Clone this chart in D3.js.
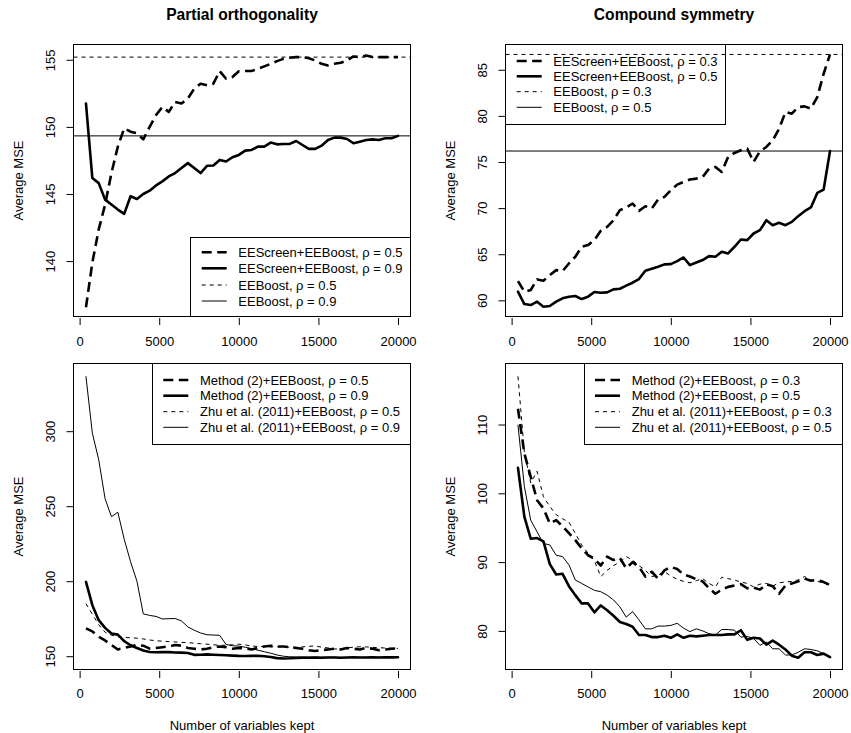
<!DOCTYPE html>
<html><head><meta charset="utf-8">
<script src="https://cdn.jsdelivr.net/npm/d3@7/dist/d3.min.js"></script>
<style>
body{margin:0;background:#fff}
text{font-family:"Liberation Sans",Arial,Helvetica,sans-serif;fill:#000}
</style>
</head><body><svg id="c" width="851" height="733"></svg>
<script>
// ---------- data ----------
const nKept = [400,800,1200,1600,2000,2400,2800,3200,3600,4000,4400,4800,5200,5600,6000,6400,6800,7200,7600,8000,
  8400,8800,9200,9600,10000,10400,10800,11200,11600,12000,12400,12800,13200,13600,14000,14400,14800,15200,15600,16000,
  16400,16800,17200,17600,18000,18400,18800,19200,19600,20000];
const xTicks = [0,5000,10000,15000,20000];

// Partial orthogonality, EEScreen vs EEBoost
const poEEScreen05 = [136.56,139.89,142.36,144.21,146.56,148.53,149.89,149.64,149.52,149.07,150.01,150.88,151.49,151.12,151.86,151.74,152.11,152.85,153.22,153.10,
  153.22,154.16,153.59,153.72,154.14,154.16,154.16,154.33,154.51,154.70,154.90,155.07,155.15,155.20,155.20,155.12,154.95,154.70,154.58,154.70,
  154.78,154.95,155.25,155.20,155.32,155.20,155.20,155.20,155.20,155.20];
const poEEScreen09 = [151.74,146.19,145.81,144.58,144.21,143.84,143.52,144.83,144.63,145.00,145.25,145.64,145.94,146.31,146.56,146.93,147.30,146.93,146.56,147.10,
  147.12,147.54,147.42,147.74,147.91,148.23,148.28,148.53,148.53,148.83,148.70,148.73,148.73,148.95,148.65,148.36,148.36,148.60,149.02,149.20,
  149.20,149.10,148.78,148.90,149.02,149.07,149.02,149.15,149.15,149.33];
const poEEBoost = [155.2, 149.33];           // rho = 0.5, rho = 0.9
const poYTicks = [140,145,150,155];
const poLegend = ["EEScreen+EEBoost, ρ = 0.5","EEScreen+EEBoost, ρ = 0.9","EEBoost, ρ = 0.5","EEBoost, ρ = 0.9"];

// Compound symmetry, EEScreen vs EEBoost
const csEEScreen03 = [62.09,60.94,61.12,62.27,62.13,62.74,63.28,63.17,64.00,64.73,65.81,65.99,66.53,67.54,67.97,68.69,69.78,70.07,70.50,69.70,
  70.21,69.96,70.93,71.22,71.94,72.55,72.84,73.10,73.20,73.38,74.29,74.47,73.92,75.55,75.98,76.27,76.45,75.01,76.16,76.63,
  77.35,78.61,80.42,80.24,80.96,81.03,80.78,82.04,84.57,86.66];
const csEEScreen05 = [60.94,59.60,59.49,59.86,59.31,59.39,59.86,60.22,60.40,60.47,60.14,60.40,60.90,60.83,60.87,61.19,61.26,61.59,61.91,62.31,
  63.21,63.43,63.64,63.90,63.93,64.26,64.65,63.82,64.11,64.37,64.80,64.73,65.27,65.09,65.81,66.60,66.53,67.25,67.61,68.69,
  68.15,68.41,68.15,68.51,69.13,69.67,70.07,71.65,72.01,76.19];
const csEEBoost = [86.66, 76.19];            // rho = 0.3, rho = 0.5
const csYTicks = [60,65,70,75,80,85];
const csLegend = ["EEScreen+EEBoost, ρ = 0.3","EEScreen+EEBoost, ρ = 0.5","EEBoost, ρ = 0.3","EEBoost, ρ = 0.5"];

// Partial orthogonality, Method (2) vs Zhu et al.
const poMethod05 = [168.5,166.5,163.0,160.5,157.5,154.5,155.5,156.5,157.5,157.0,155.0,155.5,156.0,156.5,157.5,157.0,155.5,155.0,154.5,155.0,
  156.0,156.5,156.0,155.0,155.5,155.2,154.5,155.5,156.5,157.0,156.5,156.5,156.0,155.5,155.0,154.0,153.5,154.0,154.5,155.0,
  154.5,155.5,155.0,154.5,155.5,155.0,154.0,154.5,155.0,155.2];
const poMethod09 = [199.5,184.0,174.0,168.9,165.1,164.4,160.0,157.3,155.5,153.8,152.8,152.6,152.8,152.7,152.5,152.4,152.1,150.9,151.0,151.2,
  151.0,150.8,150.6,150.4,150.2,150.1,150.2,150.3,150.0,149.5,148.7,148.5,148.6,148.8,149.0,149.0,149.1,149.0,149.1,149.1,
  149.0,149.1,149.2,149.1,149.1,149.2,149.1,149.2,149.2,149.3];
const poZhu05 = [185.0,178.0,171.0,166.0,164.0,163.0,162.5,162.3,162.0,161.5,160.8,160.3,160.0,159.7,159.5,159.2,159.0,158.7,158.3,158.0,
  157.6,157.3,157.3,157.6,158.0,157.5,156.8,156.5,156.4,156.2,156.3,156.2,156.0,155.9,156.2,156.6,156.8,156.0,155.5,154.8,
  155.0,155.6,156.0,156.3,156.2,155.9,155.6,155.5,155.3,155.2];
const poZhu09 = [336.4,298.7,281.0,255.0,243.0,246.0,228.0,213.0,200.0,178.2,177.2,176.5,174.8,175.0,175.1,173.5,169.5,167.3,165.5,164.3,
  164.1,163.9,157.8,157.0,156.7,156.0,155.0,154.0,153.0,152.0,150.8,150.0,149.6,149.5,149.5,149.4,149.4,149.3,149.3,149.3,
  149.2,149.2,149.2,149.2,149.3,149.3,149.3,149.3,149.3,149.3];
const poBotYTicks = [150,200,250,300];
const poBotLegend = ["Method (2)+EEBoost, ρ = 0.5","Method (2)+EEBoost, ρ = 0.9","Zhu et al. (2011)+EEBoost, ρ = 0.5","Zhu et al. (2011)+EEBoost, ρ = 0.9"];

// Compound symmetry, Method (2) vs Zhu et al.
const csMethod03 = [112.3,105.8,102.4,99.0,97.8,95.6,96.1,95.2,94.2,93.2,92.0,91.0,90.5,89.5,90.8,90.3,90.6,89.1,90.0,89.3,
  87.9,88.6,87.6,88.8,89.3,89.0,88.2,87.9,87.5,87.2,86.2,85.4,86.0,86.4,86.6,86.8,86.2,86.3,86.0,86.8,
  86.5,85.4,86.6,86.9,87.2,87.6,87.3,87.4,87.1,86.66];
const csMethod05 = [103.7,96.6,93.4,93.5,93.0,89.7,88.2,88.3,86.5,85.2,84.0,84.0,82.7,83.7,83.0,82.2,81.3,81.0,80.6,79.4,
  79.4,79.1,79.1,79.3,79.0,79.5,79.0,79.3,79.2,79.3,79.4,79.4,79.4,79.5,79.5,80.1,78.7,79.0,78.9,78.0,
  78.6,78.0,77.3,76.4,76.1,76.9,76.9,76.5,76.7,76.19];
const csZhu03 = [117.0,106.0,101.5,103.2,99.5,98.1,96.9,96.3,95.8,94.2,92.5,91.3,90.2,87.9,88.8,89.5,90.0,90.8,90.3,89.5,
  88.8,87.9,88.1,88.6,88.0,87.5,87.2,87.0,87.3,87.6,86.9,86.4,87.8,87.6,87.4,87.1,86.9,86.4,86.8,86.9,
  86.5,87.0,87.1,87.2,87.4,87.9,87.4,87.2,87.0,86.66];
const csZhu05 = [109.9,101.0,96.1,94.4,92.7,92.5,91.0,90.8,89.6,87.4,86.9,86.4,85.9,85.7,85.2,84.5,83.5,82.0,82.8,81.6,
  80.3,80.3,80.7,80.7,80.8,81.1,80.4,79.9,80.3,80.0,79.6,79.4,80.2,80.2,80.1,79.1,79.2,78.9,77.9,78.4,
  77.4,77.4,76.5,76.5,76.9,77.4,77.3,77.1,76.7,76.19];
const csBotYTicks = [80,90,100,110];
const csBotLegend = ["Method (2)+EEBoost, ρ = 0.3","Method (2)+EEBoost, ρ = 0.5","Zhu et al. (2011)+EEBoost, ρ = 0.3","Zhu et al. (2011)+EEBoost, ρ = 0.5"];

// ---------- styles ----------
const STY = {
  thickDash: {w:2.6, dash:"10,5.5"},
  thickSolid:{w:2.6, dash:null},
  thinDash:  {w:1,   dash:"4,4"},
  thinSolid: {w:1,   dash:null}
};
const legendStyles = ["thickDash","thickSolid","thinDash","thinSolid"];

// ---------- layout ----------
const panels = [
  {title:"Partial orthogonality", box:[73.5,44.5,410.5,316.5], ydom:[135.87,156.14], yticks:poYTicks,
   series:[[poEEScreen05,"thickDash"],[poEEScreen09,"thickSolid"]],
   hlines:[[poEEBoost[0],"thinDash"],[poEEBoost[1],"thinSolid"]],
   legend:{labels:poLegend, box:[190.5,237.5,410.5,316.5], rows:[252.3,268.3,285,301], sx:201.7, tx:238.3},
   xlabBase:346.4, xtitle:false},
  {title:"Compound symmetry", box:[505.5,44.5,842.5,316.5], ydom:[58.25,87.74], yticks:csYTicks,
   series:[[csEEScreen03,"thickDash"],[csEEScreen05,"thickSolid"]],
   hlines:[[csEEBoost[0],"thinDash"],[csEEBoost[1],"thinSolid"]],
   legend:{labels:csLegend, box:[505.5,44.5,725.5,124.5], rows:[61,76.3,91.7,107.3], sx:516.7, tx:553.3},
   xlabBase:346.4, xtitle:false},
  {title:null, box:[73.5,363.5,410.5,669.5], ydom:[141.13,345.13], yticks:poBotYTicks,
   series:[[poZhu09,"thinSolid"],[poZhu05,"thinDash"],[poMethod05,"thickDash"],[poMethod09,"thickSolid"]],
   hlines:[],
   legend:{labels:poBotLegend, box:[152.5,363.5,410.5,444.5], rows:[380,395.7,411.7,427.3], sx:163.3, tx:200},
   xlabBase:698, xtitle:true},
  {title:null, box:[505.5,363.5,842.5,669.5], ydom:[74.39,118.87], yticks:csBotYTicks,
   series:[[csZhu03,"thinDash"],[csZhu05,"thinSolid"],[csMethod03,"thickDash"],[csMethod05,"thickSolid"]],
   hlines:[],
   legend:{labels:csBotLegend, box:[584.5,363.5,842.5,444.5], rows:[380,395.7,411.7,427.3], sx:595, tx:631.7},
   xlabBase:698, xtitle:true}
];

const svg = d3.select("#c");
svg.append("rect").attr("width",851).attr("height",733).attr("fill","#fff");

function styled(sel, s){
  const st = STY[s];
  sel.attr("fill","none").attr("stroke","#000").attr("stroke-width",st.w)
     .attr("stroke-linejoin","round").attr("stroke-linecap", st.dash ? "butt" : "round");
  if (st.dash) sel.attr("stroke-dasharray", st.dash);
  return sel;
}

panels.forEach(p => {
  const [L,T,R,B] = p.box;
  const g = svg.append("g");
  const x = d3.scaleLinear().domain([-384,20784]).range([L,R]);
  const y = d3.scaleLinear().domain(p.ydom).range([B,T]);

  // x axis (ticks only, detached from box)
  const xa = g.append("g").attr("transform",`translate(0,${B+1.5})`)
    .call(d3.axisBottom(x).tickValues(xTicks).tickSize(7).tickFormat(d3.format("d")));
  xa.select(".domain").remove();
  xa.selectAll(".tick line").attr("stroke","#000").attr("stroke-width",1);
  xa.selectAll("text").attr("y", p.xlabBase-(B+1.5)).attr("dy",null)
    .attr("font-size",13).attr("font-family","Liberation Sans, Arial, sans-serif").attr("fill","#000");

  // y axis
  const ya = g.append("g").attr("transform",`translate(${L},0)`)
    .call(d3.axisLeft(y).tickValues(p.yticks).tickSize(7));
  ya.select(".domain").remove();
  ya.selectAll(".tick line").attr("stroke","#000").attr("stroke-width",1);
  ya.selectAll("text").attr("transform","rotate(-90)").attr("x",0).attr("y",-18.3).attr("dy",null)
    .attr("text-anchor","middle").attr("font-size",13)
    .attr("font-family","Liberation Sans, Arial, sans-serif").attr("fill","#000");

  // y title
  g.append("text").attr("transform",`translate(${L-50.5},${(T+B)/2}) rotate(-90)`)
    .attr("text-anchor","middle").attr("font-size",13).text("Average MSE");

  if (p.title) {
    g.append("text").attr("x",(L+R)/2).attr("y",19.6).attr("text-anchor","middle")
      .attr("font-size",15.6).attr("font-weight","bold").text(p.title);
  }
  if (p.xtitle) {
    g.append("text").attr("x",(L+R)/2).attr("y",730).attr("text-anchor","middle")
      .attr("font-size",13).text("Number of variables kept");
  }

  // series
  const line = d3.line().x((d,i)=>x(nKept[i])).y(d=>y(d));
  p.series.forEach(([vals,s]) => {
    styled(g.append("path").attr("d", line(vals)), s);
  });
  // reference lines
  p.hlines.forEach(([v,s]) => {
    styled(g.append("line").attr("x1",L).attr("x2",R).attr("y1",y(v)).attr("y2",y(v)), s)
      .attr("stroke-linecap","butt");
  });

  // box
  g.append("rect").attr("x",L).attr("y",T).attr("width",R-L).attr("height",B-T)
    .attr("fill","none").attr("stroke","#000").attr("stroke-width",1);

  // legend
  const lg = p.legend;
  g.append("rect").attr("x",lg.box[0]).attr("y",lg.box[1]).attr("width",lg.box[2]-lg.box[0])
    .attr("height",lg.box[3]-lg.box[1]).attr("fill","none").attr("stroke","#000").attr("stroke-width",1);
  lg.labels.forEach((lab,i) => {
    const ry = lg.rows[i];
    styled(g.append("line").attr("x1",lg.sx).attr("x2",lg.sx+25).attr("y1",ry).attr("y2",ry), legendStyles[i])
      .attr("stroke-linecap","butt");
    g.append("text").attr("x",lg.tx).attr("y",ry+4.6).attr("font-size",13).text(lab);
  });
});
</script>
</body></html>
